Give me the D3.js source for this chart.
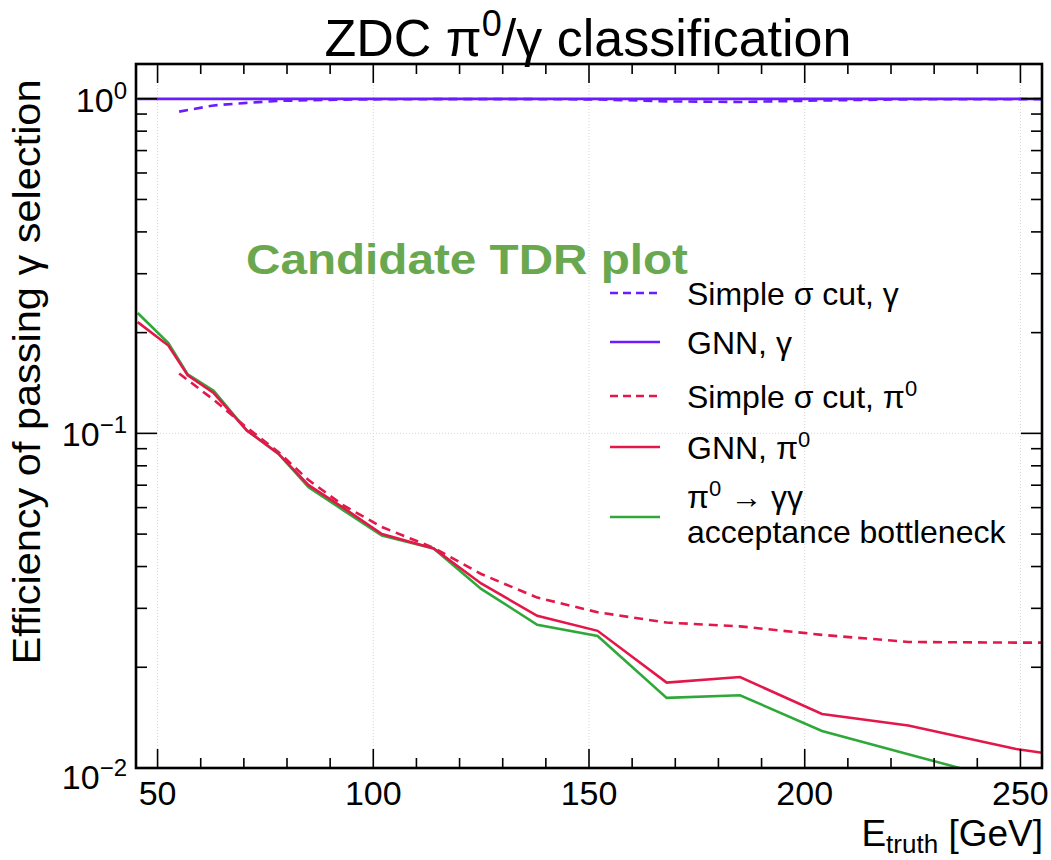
<html>
<head>
<script src="https://d3js.org/d3.v7.min.js"></script>
<style>
  body { margin: 0; background: #fff; }
  text { font-family: "Liberation Sans", Arial, Helvetica, sans-serif; fill: #000; }
</style>
</head>
<body>
<svg id="chart" width="1051" height="860"></svg>
<script>
// ---- data ----
const xTicks = [50, 100, 150, 200, 250];
const yTicks = [1, 0.1, 0.01];
const yTickExp = ["0", "\u22121", "\u22122"];

const gnnGammaE   = [45.4, 52.5, 57, 63, 70.7, 78, 85, 93, 102, 114, 125, 138, 152, 168, 185, 204, 224, 249, 255];
const gnnGammaEff = [0.999, 0.999, 0.999, 0.999, 0.999, 0.999, 0.999, 0.999, 0.999, 0.999, 0.999, 0.999, 0.999, 0.999, 0.999, 0.999, 0.999, 0.999, 0.999];

const simpleGammaE   = [55, 63, 70.7, 78, 85, 93, 102, 114, 125, 138, 152, 168, 185, 204, 224, 249, 255];
const simpleGammaEff = [0.915, 0.955, 0.972, 0.985, 0.99, 0.994, 0.996, 0.997, 0.997, 0.997, 0.995, 0.982, 0.978, 0.988, 0.996, 0.997, 0.997];

const simplePi0E   = [55, 63, 70.7, 78, 85, 93, 102, 114, 125, 138, 152, 168, 185, 204, 224, 249, 255];
const simplePi0Eff = [0.151, 0.126, 0.104, 0.088, 0.0725, 0.061, 0.0525, 0.0455, 0.038, 0.0323, 0.0292, 0.0272, 0.0265, 0.025, 0.0238, 0.0237, 0.0237];

const gnnPi0E   = [45.4, 52.5, 57, 63, 70.7, 78, 85, 93, 102, 114, 125, 138, 152, 168, 185, 204, 224, 249, 255];
const gnnPi0Eff = [0.215, 0.183, 0.149, 0.132, 0.102, 0.087, 0.070, 0.060, 0.050, 0.0453, 0.0356, 0.0285, 0.0257, 0.018, 0.0187, 0.0145, 0.0134, 0.0114, 0.0111];

const accPi0E   = [45.4, 52.5, 57, 63, 70.7, 78, 85, 93, 102, 114, 125, 138, 152, 168, 185, 204, 224, 249];
const accPi0Eff = [0.229, 0.186, 0.150, 0.134, 0.102, 0.087, 0.069, 0.059, 0.0495, 0.0453, 0.0343, 0.0268, 0.0248, 0.0162, 0.0165, 0.0129, 0.011, 0.009];

const purple = "#6a1cff";
const red = "#e3184a";
const green = "#2fa83a";

const series = [
  { name: "simpleGamma", e: simpleGammaE, v: simpleGammaEff, color: purple, dash: "9,6" },
  { name: "gnnGamma",    e: gnnGammaE,    v: gnnGammaEff,    color: purple, dash: null },
  { name: "simplePi0",   e: simplePi0E,   v: simplePi0Eff,   color: red,    dash: "9,6" },
  { name: "accPi0",      e: accPi0E,      v: accPi0Eff,      color: green,  dash: null },
  { name: "gnnPi0",      e: gnnPi0E,      v: gnnPi0Eff,      color: red,    dash: null }
];

// ---- layout ----
const svg = d3.select("#chart");
const plot = { left: 136, right: 1042, top: 64, bottom: 768 };

const x = d3.scaleLinear().domain([45, 255]).range([plot.left, plot.right]);
const y = d3.scaleLog().domain([0.01, 1.27]).range([plot.bottom, plot.top]);

const xMinor = d3.range(50, 256, 10).filter(d => !xTicks.includes(d));
const yMinor = [];
[0.01, 0.1, 1].forEach(dec => d3.range(2, 10).forEach(k => { if (k * dec < 1.27) yMinor.push(k * dec); }));

// grid
const grid = svg.append("g").attr("stroke", "#d4d4d4").attr("stroke-dasharray", "1,2").attr("stroke-width", 1);
grid.selectAll("line.gx").data(xTicks).join("line")
  .attr("x1", d => x(d)).attr("x2", d => x(d)).attr("y1", plot.top).attr("y2", plot.bottom);
grid.selectAll("line.gy").data(yTicks).join("line")
  .attr("y1", d => y(d)).attr("y2", d => y(d)).attr("x1", plot.left).attr("x2", plot.right);

// curves
svg.append("clipPath").attr("id", "clip").append("rect")
  .attr("x", plot.left).attr("y", plot.top)
  .attr("width", plot.right - plot.left).attr("height", plot.bottom - plot.top);

const line = d3.line().x(d => x(d[0])).y(d => y(d[1]));
svg.append("g").attr("clip-path", "url(#clip)")
  .selectAll("path").data(series).join("path")
  .attr("d", s => line(d3.zip(s.e, s.v)))
  .attr("fill", "none")
  .attr("stroke", s => s.color)
  .attr("stroke-width", 2.6)
  .attr("stroke-dasharray", s => s.dash);

// ticks (inside, on all four sides)
const ticks = svg.append("g").attr("stroke", "#000").attr("stroke-width", 1.6);
function xTickLines(data, len) {
  ticks.append("g").selectAll("line").data(data).join("line")
    .attr("x1", d => x(d)).attr("x2", d => x(d)).attr("y1", plot.bottom).attr("y2", plot.bottom - len);
  ticks.append("g").selectAll("line").data(data).join("line")
    .attr("x1", d => x(d)).attr("x2", d => x(d)).attr("y1", plot.top).attr("y2", plot.top + len);
}
function yTickLines(data, len) {
  ticks.append("g").selectAll("line").data(data).join("line")
    .attr("y1", d => y(d)).attr("y2", d => y(d)).attr("x1", plot.left).attr("x2", plot.left + len);
  ticks.append("g").selectAll("line").data(data).join("line")
    .attr("y1", d => y(d)).attr("y2", d => y(d)).attr("x1", plot.right).attr("x2", plot.right - len);
}
xTickLines(xTicks, 19);
xTickLines(xMinor, 10);
yTickLines(yTicks, 21);
yTickLines(yMinor, 11);

// frame
svg.append("rect")
  .attr("x", plot.left).attr("y", plot.top)
  .attr("width", plot.right - plot.left).attr("height", plot.bottom - plot.top)
  .attr("fill", "none").attr("stroke", "#000").attr("stroke-width", 2.6);

// tick labels
svg.append("g").selectAll("text").data(xTicks).join("text")
  .attr("x", d => x(d)).attr("y", 805)
  .attr("text-anchor", "middle").attr("font-size", 34)
  .text(d => d);

const yl = svg.append("g").selectAll("text").data(yTicks).join("text")
  .attr("x", 127).attr("y", (d, i) => y(d) + (i === 2 ? 21 : 13))
  .attr("text-anchor", "end").attr("font-size", 34);
yl.append("tspan").text("10");
yl.append("tspan").attr("dy", -13).attr("font-size", 24).text((d, i) => yTickExp[i]);

// title
const title = svg.append("text").attr("x", 588).attr("y", 56)
  .attr("text-anchor", "middle").attr("font-size", 52);
title.append("tspan").text("ZDC \u03c0");
title.append("tspan").attr("dy", -20).attr("font-size", 36).text("0");
title.append("tspan").attr("dy", 20).text("/\u03b3 classification");

// axis titles
const xt = svg.append("text").attr("x", 1043).attr("y", 846)
  .attr("text-anchor", "end").attr("font-size", 37);
xt.append("tspan").text("E");
xt.append("tspan").attr("dy", 7).attr("font-size", 26).text("truth");
xt.append("tspan").attr("dy", -7).text(" [GeV]");

svg.append("text")
  .attr("transform", "translate(40,372) rotate(-90)")
  .attr("text-anchor", "middle").attr("font-size", 38)
  .attr("textLength", 585).attr("lengthAdjust", "spacingAndGlyphs")
  .text("Efficiency of passing \u03b3 selection");

// green note on the canvas
svg.append("text").attr("x", 246).attr("y", 274)
  .attr("font-size", 43).attr("font-weight", "bold")
  .attr("textLength", 442).attr("lengthAdjust", "spacingAndGlyphs")
  .style("fill", "#6aa84f")
  .text("Candidate TDR plot");

// legend
const legendRows = [
  { s: series[0], y: 293, lines: [["Simple \u03c3 cut, \u03b3", null]] },
  { s: series[1], y: 342, lines: [["GNN, \u03b3", null]] },
  { s: series[2], y: 396, lines: [["Simple \u03c3 cut, \u03c0", "0"]] },
  { s: series[4], y: 447, lines: [["GNN, \u03c0", "0"]] },
  { s: series[3], y: 517, lines: [["\u03c0", "0", " \u2192 \u03b3\u03b3"], ["acceptance bottleneck", null]] }
];
const leg = svg.append("g").selectAll("g").data(legendRows).join("g");
leg.append("line")
  .attr("x1", 610).attr("x2", 660).attr("y1", d => d.y).attr("y2", d => d.y)
  .attr("stroke", d => d.s.color).attr("stroke-width", 2.6)
  .attr("stroke-dasharray", d => d.s.dash ? "8,5" : null);
leg.each(function (d) {
  const g = d3.select(this);
  const n = d.lines.length;
  d.lines.forEach((ln, i) => {
    const t = g.append("text").attr("x", 687)
      .attr("y", n === 1 ? d.y + 12 : d.y - 9 + i * 35)
      .attr("font-size", 32);
    t.append("tspan").text(ln[0]);
    if (ln[1]) {
      t.append("tspan").attr("dy", -12).attr("font-size", 22).text(ln[1]);
      if (ln[2]) t.append("tspan").attr("dy", 12).text(ln[2]);
    }
  });
});
</script>
</body>
</html>
